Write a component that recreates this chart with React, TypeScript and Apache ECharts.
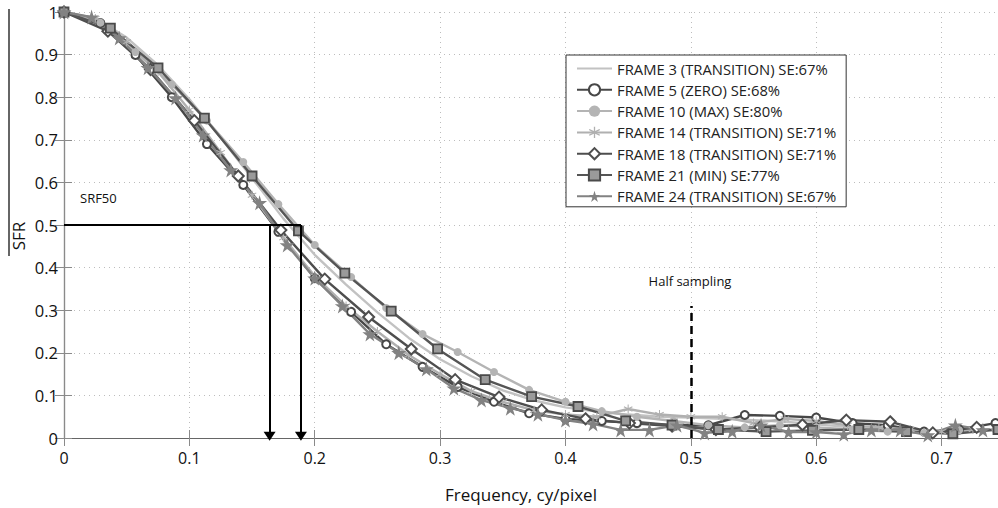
import React, { useEffect, useRef } from "react";
import * as echarts from "echarts";

// ---------- data ----------
const legendNames = [
  "FRAME 3 (TRANSITION) SE:67%",
  "FRAME 5 (ZERO) SE:68%",
  "FRAME 10 (MAX) SE:80%",
  "FRAME 14 (TRANSITION) SE:71%",
  "FRAME 18 (TRANSITION) SE:71%",
  "FRAME 21 (MIN) SE:77%",
  "FRAME 24 (TRANSITION) SE:67%",
];

const xTickLabels = ["0", "0.1", "0.2", "0.3", "0.4", "0.5", "0.6", "0.7"];

const f3X = [0, 0.025, 0.05, 0.075, 0.1, 0.125, 0.15, 0.175, 0.2, 0.225, 0.25, 0.275, 0.3, 0.325, 0.35, 0.375, 0.4, 0.425, 0.45, 0.475, 0.5, 0.525, 0.55, 0.575, 0.6, 0.625, 0.65, 0.675, 0.7, 0.725];
const f3Y = [1.0, 0.985, 0.94, 0.875, 0.795, 0.705, 0.61, 0.515, 0.43, 0.36, 0.295, 0.235, 0.185, 0.145, 0.112, 0.088, 0.072, 0.062, 0.055, 0.05, 0.048, 0.045, 0.042, 0.038, 0.032, 0.026, 0.02, 0.016, 0.015, 0.02];

const f5X = [0, 0.029, 0.057, 0.086, 0.114, 0.143, 0.171, 0.2, 0.229, 0.257, 0.286, 0.314, 0.343, 0.371, 0.4, 0.429, 0.457, 0.486, 0.514, 0.543, 0.571, 0.6, 0.629, 0.657, 0.686, 0.714, 0.743];
const f5Y = [1.0, 0.974, 0.899, 0.8, 0.69, 0.594, 0.484, 0.375, 0.296, 0.22, 0.167, 0.12, 0.085, 0.058, 0.045, 0.04, 0.035, 0.03, 0.03, 0.054, 0.052, 0.048, 0.035, 0.03, 0.015, 0.02, 0.035];

const f10X = [0, 0.029, 0.057, 0.086, 0.114, 0.143, 0.171, 0.2, 0.229, 0.257, 0.286, 0.314, 0.343, 0.371, 0.4, 0.429, 0.457, 0.486, 0.514, 0.543, 0.571, 0.6, 0.629, 0.657, 0.686, 0.714, 0.743];
const f10Y = [1.0, 0.975, 0.906, 0.83, 0.745, 0.648, 0.549, 0.453, 0.378, 0.305, 0.244, 0.202, 0.155, 0.113, 0.085, 0.063, 0.05, 0.04, 0.03, 0.025, 0.03, 0.025, 0.02, 0.015, 0.012, 0.018, 0.02];

const f14X = [0, 0.025, 0.05, 0.075, 0.1, 0.125, 0.15, 0.175, 0.2, 0.225, 0.25, 0.275, 0.3, 0.325, 0.35, 0.375, 0.4, 0.425, 0.45, 0.475, 0.5, 0.525, 0.55, 0.575, 0.6, 0.625, 0.65, 0.675, 0.7, 0.725];
const f14Y = [1.0, 0.985, 0.93, 0.86, 0.77, 0.67, 0.57, 0.47, 0.38, 0.31, 0.25, 0.195, 0.15, 0.11, 0.085, 0.065, 0.055, 0.05, 0.068, 0.055, 0.05, 0.05, 0.035, 0.045, 0.04, 0.03, 0.025, 0.02, 0.015, 0.02];

const f18X = [0, 0.035, 0.069, 0.104, 0.139, 0.173, 0.208, 0.243, 0.277, 0.312, 0.347, 0.381, 0.416, 0.451, 0.485, 0.52, 0.555, 0.589, 0.624, 0.659, 0.693, 0.728];
const f18Y = [1.0, 0.955, 0.865, 0.745, 0.615, 0.488, 0.373, 0.284, 0.209, 0.137, 0.096, 0.066, 0.045, 0.035, 0.028, 0.02, 0.025, 0.031, 0.042, 0.038, 0.012, 0.025];

const f21X = [0, 0.037, 0.075, 0.112, 0.15, 0.187, 0.224, 0.261, 0.298, 0.336, 0.373, 0.41, 0.448, 0.485, 0.522, 0.56, 0.597, 0.634, 0.672, 0.709, 0.745];
const f21Y = [1.0, 0.962, 0.869, 0.751, 0.615, 0.486, 0.387, 0.298, 0.209, 0.137, 0.097, 0.074, 0.04, 0.03, 0.02, 0.015, 0.018, 0.02, 0.015, 0.01, 0.02];

const f24X = [0, 0.022, 0.044, 0.067, 0.089, 0.111, 0.133, 0.156, 0.178, 0.2, 0.222, 0.244, 0.267, 0.289, 0.311, 0.333, 0.356, 0.378, 0.4, 0.422, 0.444, 0.467, 0.489, 0.511, 0.533, 0.556, 0.578, 0.6, 0.622, 0.644, 0.667, 0.689, 0.711, 0.733];
const f24Y = [1.0, 0.988, 0.939, 0.869, 0.798, 0.711, 0.629, 0.552, 0.453, 0.375, 0.31, 0.244, 0.2, 0.162, 0.117, 0.089, 0.07, 0.056, 0.042, 0.033, 0.019, 0.019, 0.03, 0.012, 0.016, 0.03, 0.014, 0.014, 0.009, 0.019, 0.019, 0.007, 0.03, 0.019];

// annotation values
const srf50Level = 0.5;
const srf50LineEnd = 0.189;
const srf50Arrows = [0.164, 0.189];
const arrowBottom = 0.004;
const halfSampling = 0.5;
const halfSamplingTop = 0.31;

const pairs = (xs: number[], ys: number[]) => xs.map((x, i) => [x, ys[i]]);

const STAR = "path://M50,0 L61,35 L98,35 L68,57 L79,91 L50,70 L21,91 L32,57 L2,35 L39,35 Z";
const ASTER = "path://M45,0 L55,0 L55,38 L88,20 L93,29 L60,50 L93,71 L88,80 L55,62 L55,100 L45,100 L45,62 L12,80 L7,71 L40,50 L7,29 L12,20 L45,38 Z";

export default function App() {
  const ref = useRef<HTMLDivElement>(null);
  useEffect(() => {
    document.body.style.margin = "0";
    if (!ref.current) return;
    const chart = echarts.init(ref.current, undefined, { renderer: "svg" });
    const lw = 2.4;
    const seriesDefs = [
      { name: legendNames[0], data: pairs(f3X, f3Y), color: "#c2c2c2", symbol: "circle", size: 0, item: {} },
      { name: legendNames[1], data: pairs(f5X, f5Y), color: "#474747", symbol: "emptyCircle", size: 8, item: { borderWidth: 2 } },
      { name: legendNames[2], data: pairs(f10X, f10Y), color: "#b4b4b4", symbol: "circle", size: 8, item: {} },
      { name: legendNames[3], data: pairs(f14X, f14Y), color: "#b0b0b0", symbol: ASTER, size: 9, item: {} },
      { name: legendNames[4], data: pairs(f18X, f18Y), color: "#4e4e4e", symbol: "emptyDiamond", size: 11, item: { borderWidth: 2 } },
      { name: legendNames[5], data: pairs(f21X, f21Y), color: "#555555", symbol: "rect", size: 9, item: { color: "#9a9a9a", borderColor: "#4a4a4a", borderWidth: 1.8 } },
      { name: legendNames[6], data: pairs(f24X, f24Y), color: "#828282", symbol: STAR, size: 15, item: {} },
    ];
    const series: any[] = seriesDefs.map((s, idx) => ({
      type: "line",
      name: s.name,
      data: s.data,
      symbol: s.symbol,
      symbolSize: s.size,
      showSymbol: idx !== 0,
      color: s.color,
      lineStyle: { color: s.color, width: lw },
      itemStyle: { color: s.color, ...s.item },
      clip: true,
      z: 3,
    }));
    // annotations
    series.push({
      type: "line",
      name: "annot",
      data: [],
      silent: true,
      z: 5,
      markLine: {
        silent: true,
        animation: false,
        label: { show: false },
        lineStyle: { color: "#000", width: 2, type: "solid" },
        data: [
          [
            { coord: [0, srf50Level], symbol: "none" },
            { coord: [srf50LineEnd, srf50Level], symbol: "none" },
          ],
          ...srf50Arrows.map((a) => [
            { coord: [a, srf50Level], symbol: "none" },
            { coord: [a, arrowBottom], symbol: "triangle", symbolSize: [12, 9] },
          ]),
          [
            { coord: [halfSampling, 0], symbol: "none", lineStyle: { color: "#000", type: [8, 5], width: 2.5 } },
            { coord: [halfSampling, halfSamplingTop], symbol: "none" },
          ],
        ],
      },
    });

    const gridLine = { show: true, lineStyle: { color: "#bdbdbd", type: [1, 4], width: 1 } };
    const axisColor = "#8a8a8a";
    chart.setOption({
      animation: false,
      backgroundColor: "#fff",
      grid: { left: 64, top: 12, right: 0, bottom: 70, containLabel: false },
      legend: {
        orient: "vertical",
        left: 566,
        top: 55,
        data: legendNames.map((n, i) =>
          i === 0 ? { name: n, itemStyle: { opacity: 0 } } : { name: n }
        ),
        itemWidth: 35,
        itemHeight: 14,
        itemGap: 6.3,
        padding: [6, 10, 3, 10],
        borderColor: "#333",
        borderWidth: 1,
        backgroundColor: "#fff",
        textStyle: { fontFamily: "Open Sans", fontSize: 14.8, color: "#222", lineHeight: 14 },
      },
      xAxis: [
        {
          type: "value",
          min: 0,
          max: 0.745,
          interval: 0.1,
          axisLine: { show: true, lineStyle: { color: axisColor, width: 1.2 } },
          axisTick: { show: true, inside: true, length: 8, lineStyle: { color: axisColor } },
          axisLabel: {
            margin: 12,
            showMaxLabel: false,
            fontFamily: "Liberation Sans Narrow, Open Sans",
            fontSize: 16,
            color: "#111",
            formatter: (v: number) => {
              const i = Math.round(v * 10);
              return Math.abs(v * 10 - i) < 1e-6 && xTickLabels[i] ? xTickLabels[i] : "";
            },
          },
          splitLine: gridLine,
        },
        {
          type: "value",
          position: "top",
          min: 0,
          max: 0.745,
          interval: 0.1,
          axisLine: { show: true, lineStyle: { color: "#666", width: 1.2 } },
          axisTick: { show: true, inside: true, length: 8, lineStyle: { color: axisColor } },
          axisLabel: { show: false },
          splitLine: { show: false },
        },
      ],
      yAxis: [
        {
          type: "value",
          min: 0,
          max: 1,
          interval: 0.1,
          axisLine: { show: true, lineStyle: { color: axisColor, width: 1.2 } },
          axisTick: { show: true, inside: true, length: 8, lineStyle: { color: axisColor } },
          axisLabel: { margin: 6, fontFamily: "Open Sans", fontSize: 16.5, color: "#111" },
          splitLine: gridLine,
        },
        {
          type: "value",
          position: "right",
          min: 0,
          max: 1,
          interval: 0.1,
          axisLine: { show: true, lineStyle: { color: axisColor, width: 1.2 } },
          axisTick: { show: true, inside: true, length: 9, lineStyle: { color: axisColor } },
          axisLabel: { show: false },
          splitLine: { show: false },
        },
      ],
      series,
      graphic: [
        { type: "line", shape: { x1: 9, y1: 9, x2: 9, y2: 256 }, style: { stroke: "#333", lineWidth: 1.5 } },
        {
          type: "text",
          x: 18,
          y: 236,
          rotation: Math.PI / 2,
          style: { text: "SFR", fontFamily: "Open Sans", fontSize: 17, fill: "#111", align: "center", verticalAlign: "middle" },
        },
        {
          type: "text",
          x: 521,
          y: 494,
          style: { text: "Frequency, cy/pixel", fontFamily: "Open Sans", fontSize: 17, fill: "#111", align: "center", verticalAlign: "middle" },
        },
        {
          type: "text",
          x: 80,
          y: 198,
          style: { text: "SRF50", fontFamily: "Open Sans", fontSize: 13, fill: "#111", align: "left", verticalAlign: "middle" },
        },
        {
          type: "text",
          x: 690,
          y: 281,
          style: { text: "Half sampling", fontFamily: "Open Sans", fontSize: 13, fill: "#111", align: "center", verticalAlign: "middle" },
        },
      ],
    });
    return () => chart.dispose();
  }, []);
  return <div ref={ref} style={{ width: 998, height: 508 }} />;
}
